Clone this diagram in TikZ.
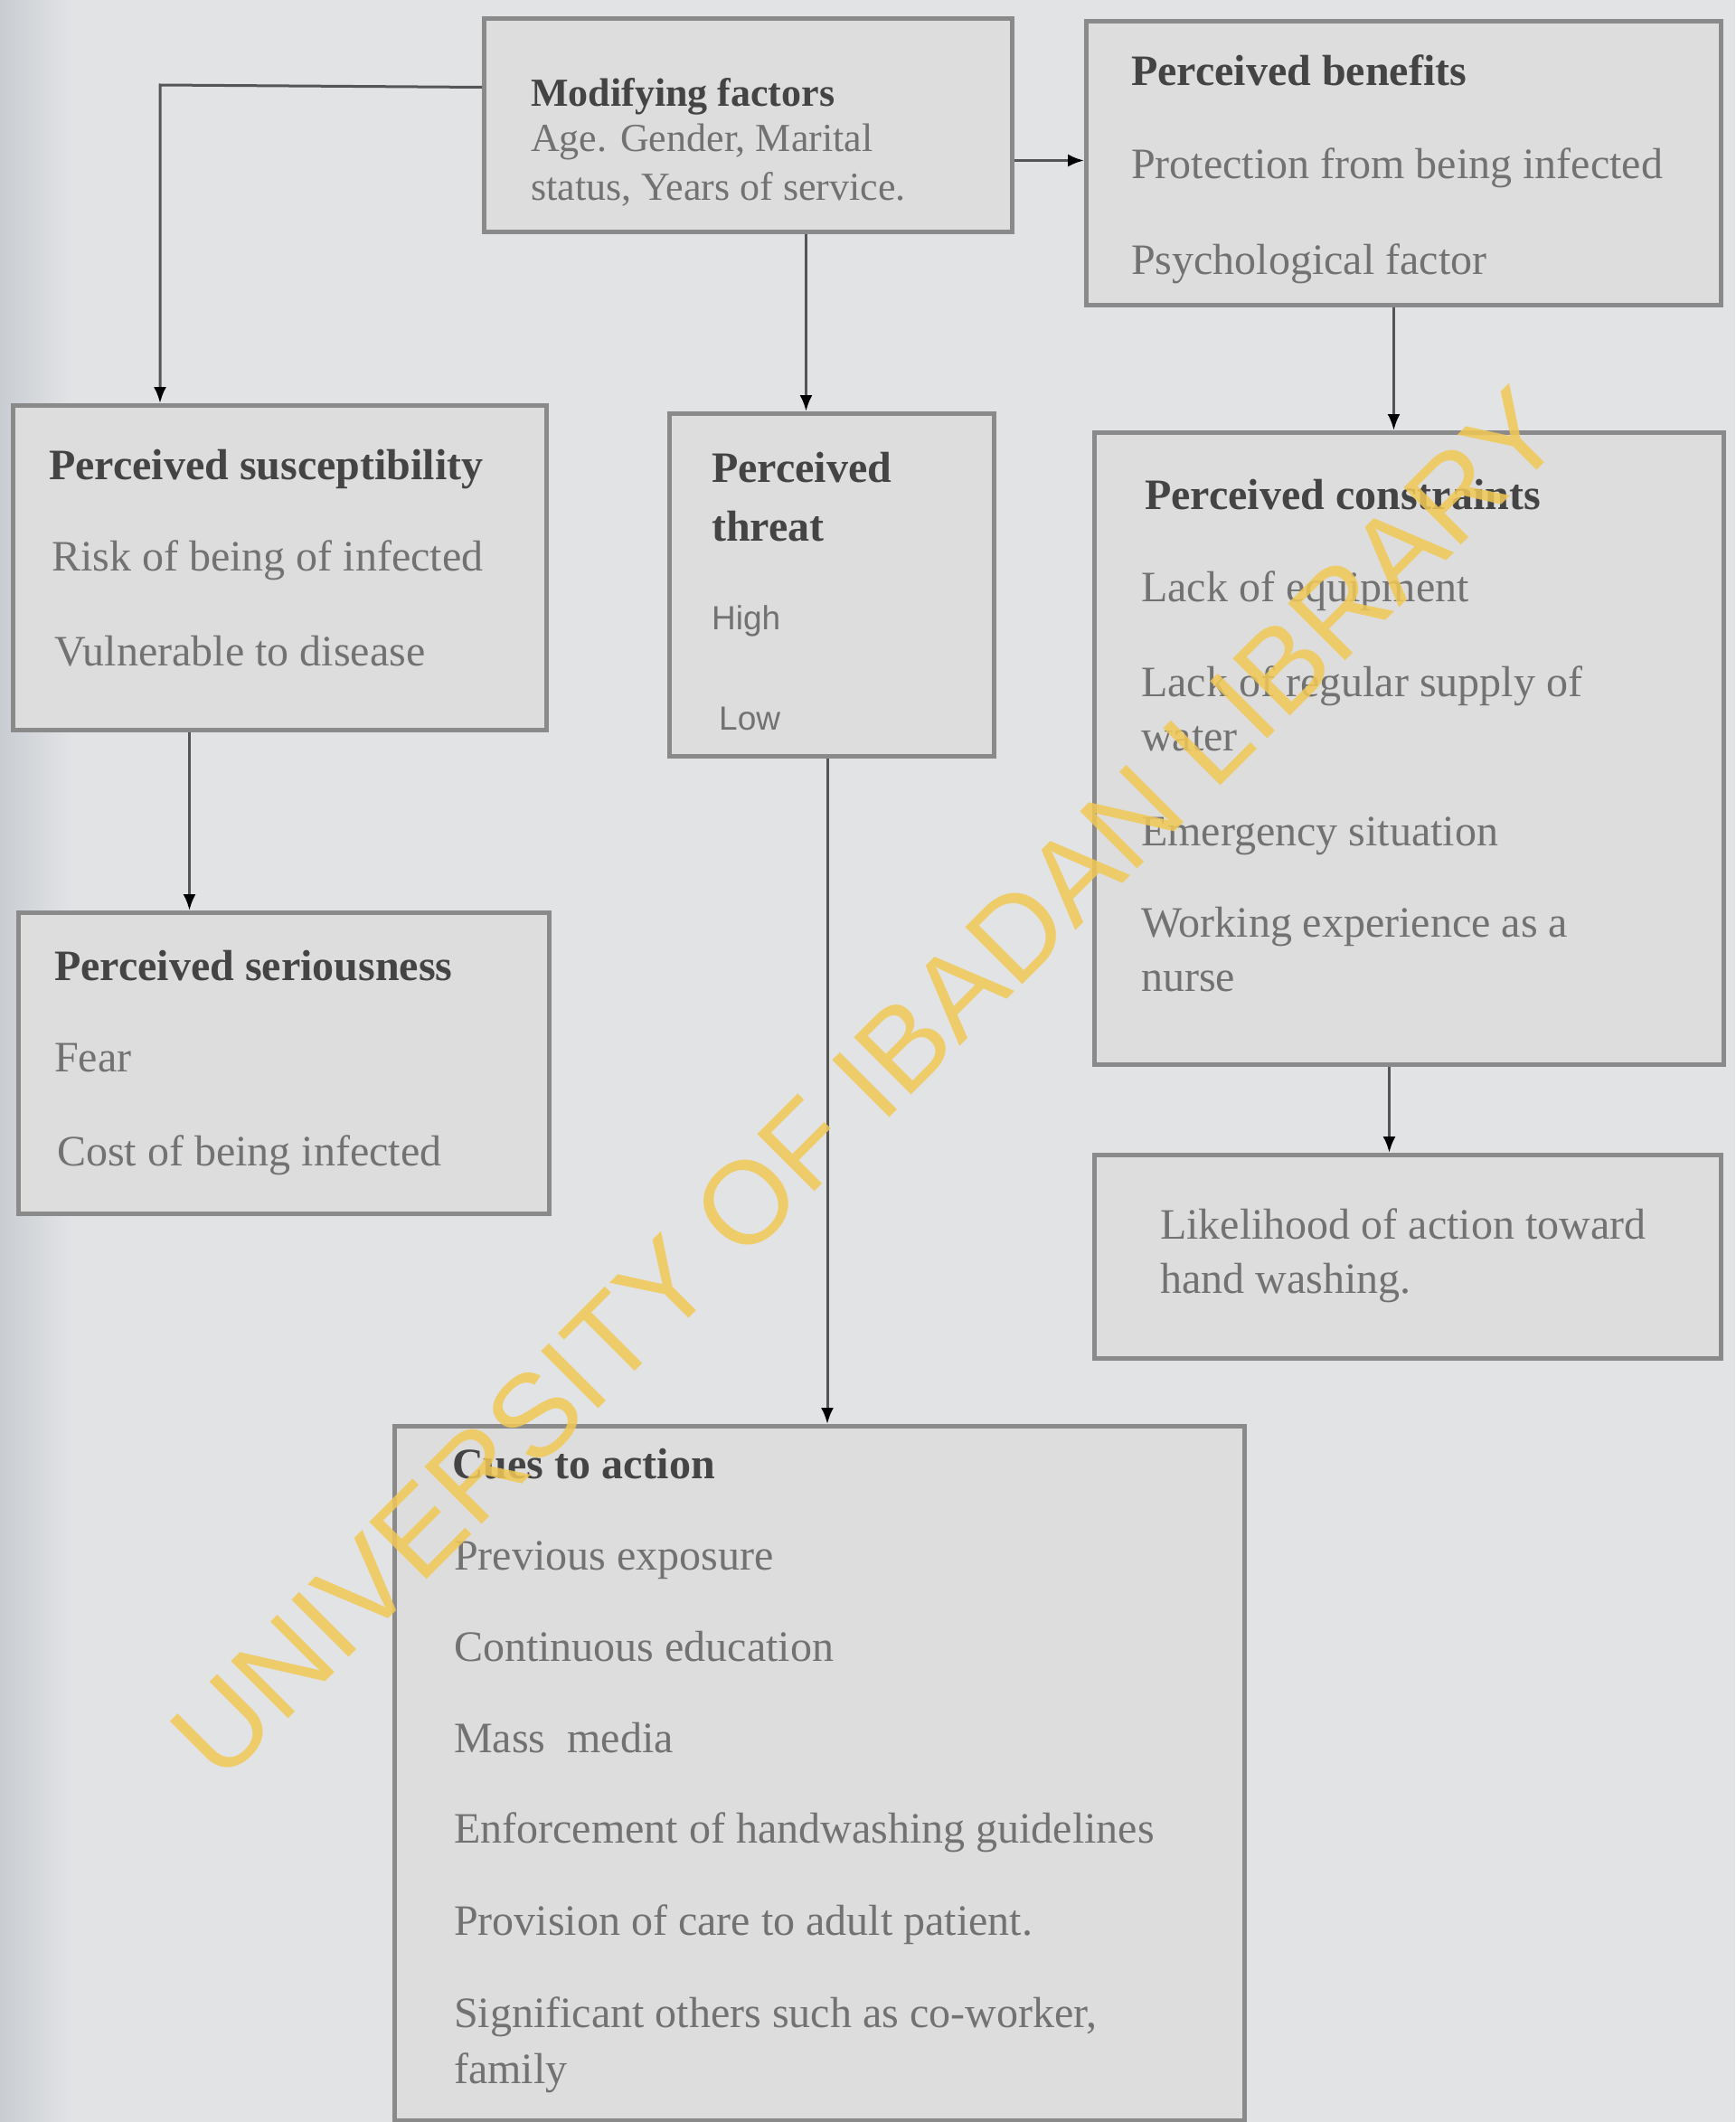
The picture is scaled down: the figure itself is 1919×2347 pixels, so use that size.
\documentclass[tikz,border=0pt]{standalone}
\usepackage{fontspec}
\setmainfont{Liberation Serif}
\newfontfamily\wmfont{Liberation Sans}
\newfontfamily\lowfont{Liberation Sans}
\usetikzlibrary{arrows.meta}
\definecolor{bgc}{HTML}{E2E3E5}
\definecolor{bgdark}{HTML}{C9CDD2}
\definecolor{boxfill}{HTML}{DDDDDD}
\definecolor{boxline}{HTML}{8A8A8A}
\definecolor{headc}{HTML}{444444}
\definecolor{itemc}{HTML}{727272}
\definecolor{linec}{HTML}{555555}
\definecolor{wmc}{HTML}{F2C955}
\begin{document}
\begin{tikzpicture}[x=1pt,y=-1pt,
  box/.style={draw=boxline, fill=boxfill, line width=5pt, anchor=north west, inner sep=0pt},
  head/.style={anchor=base west, inner sep=0pt, text=headc, font=\fontsize{48}{58}\selectfont\bfseries},
  item/.style={anchor=base west, inner sep=0pt, text=itemc, font=\fontsize{48}{58}\selectfont},
  modhead/.style={head, font=\fontsize{44}{52}\selectfont\bfseries},
  moditem/.style={item, font=\fontsize{44}{52}\selectfont},
  smallitem/.style={item, font=\lowfont\fontsize{37}{44}\selectfont},
  arr/.style={draw=linec, line width=3pt, -{Latex[length=18pt,width=14pt,color=black]}}
]
\useasboundingbox (0,0) rectangle (1919,2347);
\fill[bgc] (0,0) rectangle (1919,2347);
\shade[left color=bgdark, right color=bgc] (0,0) rectangle (80,2347);

% boxes
\node[box, minimum width=584pt, minimum height=236pt] (mod) at (533,18) {};
\node[box, minimum width=702pt, minimum height=314pt] (ben) at (1199,21) {};
\node[box, minimum width=590pt, minimum height=359pt] (sus) at (12,446) {};
\node[box, minimum width=359pt, minimum height=379pt] (thr) at (738,455) {};
\node[box, minimum width=696pt, minimum height=699pt] (con) at (1208,476) {};
\node[box, minimum width=587pt, minimum height=333pt] (ser) at (18,1007) {};
\node[box, minimum width=693pt, minimum height=225pt] (lik) at (1208,1275) {};
\node[box, minimum width=940pt, minimum height=768pt] (cue) at (434,1575) {};

% texts: modifying factors
\node[modhead] (modt) at (587,118) {Modifying factors};
\node[moditem] (mod1) at (587,167) {Age. Gender, Marital};
\node[moditem] (mod2) at (587,221) {status, Years of service.};

% perceived benefits
\node[head] (bent) at (1251,95) {Perceived benefits};
\node[item] (ben1) at (1251,197) {Protection from being infected};
\node[item] (ben2) at (1251,303) {Psychological factor};

% susceptibility
\node[head] (sust) at (54,530) {Perceived susceptibility};
\node[item] (sus1) at (57,631) {Risk of being of infected};
\node[item] (sus2) at (60,736) {Vulnerable to disease};

% threat
\node[head] (thrt1) at (787,533) {Perceived};
\node[head] (thrt2) at (787,598) {threat};
\node[smallitem] (thr1) at (787,696) {High};
\node[smallitem] (thr2) at (795,807) {Low};

% constraints
\node[head] (cont) at (1266,563) {Perceived constraints};
\node[item] (con1) at (1262,665) {Lack of equipment};
\node[item] (con2) at (1262,770) {Lack of regular supply of};
\node[item] (con2b) at (1262,830) {water};
\node[item] (con3) at (1262,935) {Emergency situation};
\node[item] (con4) at (1262,1036) {Working experience as a};
\node[item] (con4b) at (1262,1096) {nurse};

% seriousness
\node[head] (sert) at (60,1084) {Perceived seriousness};
\node[item] (ser1) at (60,1185) {Fear};
\node[item] (ser2) at (63,1289) {Cost of being infected};

% likelihood
\node[item] (lik1) at (1283,1370) {Likelihood of action toward};
\node[item] (lik2) at (1283,1430) {hand washing.};

% cues to action
\node[head] (cuet) at (500,1635) {Cues to action};
\node[item] (cue1) at (502,1736) {Previous exposure};
\node[item] (cue2) at (502,1837) {Continuous education};
\node[item] (cue3) at (502,1938) {Mass\ \ media};
\node[item] (cue4) at (502,2038) {Enforcement of handwashing guidelines};
\node[item] (cue5) at (502,2140) {Provision of care to adult patient.};
\node[item] (cue6) at (502,2242) {Significant others such as co-worker,};
\node[item] (cue6b) at (502,2304) {family};

% connectors
\coordinate (bend) at (177,94);
\draw[arr] ([yshift=42pt]mod.west) -- (bend) -- (bend |- sus.north);
\draw[arr] ([xshift=64pt]mod.south) -- ([xshift=64pt]mod.south |- thr.north);
\draw[arr] ([yshift=-39pt]mod.east) -- ([yshift=-39pt]mod.east -| ben.west);
\draw[arr] ([xshift=-11pt]ben.south) -- ([xshift=-11pt]ben.south |- con.north);
\draw[arr] ([xshift=-100pt]sus.south) -- ([xshift=-100pt]sus.south |- ser.north);
\draw[arr] ([xshift=-5pt]thr.south) -- ([xshift=-5pt]thr.south |- cue.north);
\draw[arr] ([xshift=-22pt]con.south) -- ([xshift=-22pt]con.south |- lik.north);

% watermark
\node[rotate=45, text=wmc, opacity=0.85, font=\wmfont\fontsize{130}{130}\selectfont] (wm) at (958,1198) {UNIVERSITY OF IBADAN LIBRARY};
\end{tikzpicture}
\end{document}
